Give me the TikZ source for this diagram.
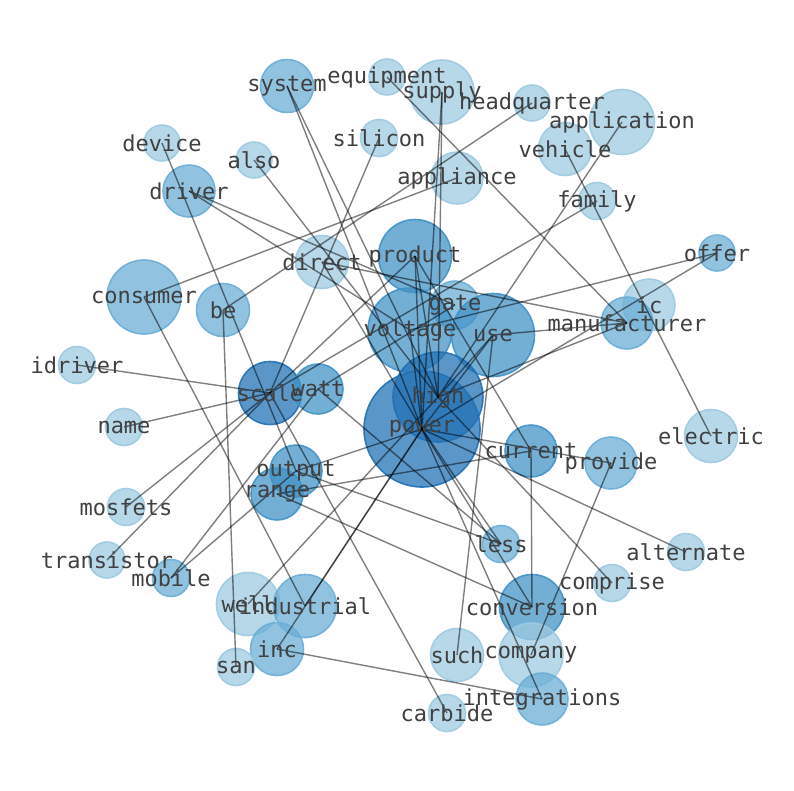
\documentclass[tikz,border=0pt]{standalone}
\usepackage{fontspec}
\setmonofont{DejaVu Sans Mono}
\definecolor{blA}{HTML}{9ECAE1}
\definecolor{blB}{HTML}{6BAED6}
\definecolor{blC}{HTML}{4292C6}
\definecolor{blD}{HTML}{2171B5}
\begin{document}
\begin{tikzpicture}[x=1pt,y=-1pt,
  word/.style={circle,inner sep=0pt,fill opacity=0.74,draw opacity=0.9,line width=1.6pt},
  lbl/.style={font=\ttfamily\fontsize{22}{22}\selectfont,text=black!75,inner sep=0pt},
  link/.style={draw=black,draw opacity=0.5,line width=1.4pt}]
\useasboundingbox (0,0) rectangle (794,790);
% word circles
\foreach \n/\x/\y/\d/\c in {
  equipment/387/77/36/blA, supply/442/92/64/blA, system/287/86/53/blB,
  headquarter/532/103/36/blA, application/622/122/65/blA, silicon/379/138/37/blA,
  device/162/143/36/blA, vehicle/565/149/53/blA, also/254/160/36/blA,
  appliance/457/178/52/blA, driver/189/191/52/blB, family/597/201/37/blA,
  offer/717/253/36/blB, direct/322/262/53/blA, consumer/144/297/74/blB,
  be/223/310/53/blB, ic/649/305/52/blA, manufacturer/627/323/52/blB,
  product/415/256/73/blC, gate/455/305/48/blB, voltage/410/330/84/blC,
  use/493/335/83/blC, idriver/77/365/37/blA, scale/270/393/63/blD,
  watt/318/389/50/blC, power/422/429/116/blD, high/438/397/90/blD,
  name/124/427/37/blA, electric/711/436/53/blA, current/531/451/52/blC,
  provide/611/463/52/blB, output/296/471/52/blC, range/277/494/52/blC,
  mosfets/126/507/37/blA, less/501/544/37/blB, alternate/686/552/37/blA,
  transistor/107/560/36/blA, mobile/171/578/37/blB, comprise/612/583/37/blA,
  well/248/604/63/blA, industrial/305/606/63/blB, conversion/532/607/65/blC,
  inc/277/649/53/blB, san/236/667/37/blA, such/457/655/53/blA,
  company/531/655/64/blA, integrations/542/699/52/blB, carbide/447/713/37/blA}
  \node[word,minimum size=\d pt,fill=\c,draw=\c] (\n) at (\x,\y) {};
% links
\foreach \a/\b in {
  system/high, system/power, supply/high, supply/power,
  equipment/manufacturer, headquarter/be, application/high, silicon/scale,
  device/output, also/high, appliance/consumer, driver/voltage, driver/gate,
  family/scale, vehicle/electric, offer/voltage, offer/power,
  direct/manufacturer, product/scale, consumer/industrial, be/san,
  idriver/scale, name/scale, mosfets/scale, transistor/scale,
  mobile/watt, mobile/output, well/high, industrial/power, inc/power,
  inc/integrations, such/use, company/provide, integrations/power,
  scale/carbide, conversion/current, conversion/range, conversion/power,
  less/output, less/power, comprise/high, alternate/power, power/provide,
  range/current, output/power, watt/gate, product/current,
  high/manufacturer, use/manufacturer, watt/less, product/power,
  product/high, voltage/power, use/power, use/high, direct/power}
  \draw[link] (\a.center) -- (\b.center);
% labels on top
\foreach \n in {equipment, supply, system, headquarter, application, silicon,
  device, vehicle, also, appliance, driver, family, offer, direct, consumer,
  be, ic, manufacturer, product, gate, voltage, use, idriver, scale, watt,
  power, high, name, electric, current, provide, output, range, mosfets,
  less, alternate, transistor, mobile, comprise, well, industrial,
  conversion, inc, san, such, company, integrations, carbide}
  \node[lbl] at (\n.center) {\n};
\end{tikzpicture}
\end{document}
